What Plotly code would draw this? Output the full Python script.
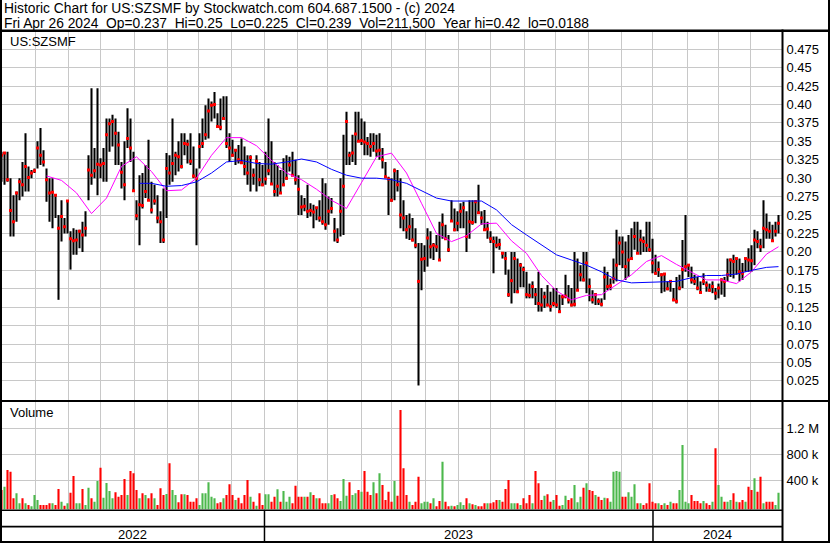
import plotly.graph_objects as go
import pandas as pd

W, H = 830, 543

# ---------------- data (~2 trading days per bar) ----------------
high = [
0.336,0.334,0.336,0.300,0.277,0.282,0.300,0.322,0.361,0.316,
0.311,0.313,0.350,0.368,0.338,0.313,0.300,0.300,0.277,0.250,
0.270,0.246,0.270,0.228,0.232,0.230,0.230,0.241,0.255,0.331,
0.422,0.341,0.422,0.327,0.341,0.381,0.381,0.386,0.381,0.363,
0.322,0.350,0.395,0.381,0.336,0.270,0.304,0.307,0.318,0.352,
0.295,0.291,0.277,0.255,0.286,0.334,0.331,0.381,0.336,0.350,
0.361,0.361,0.352,0.361,0.343,0.313,0.361,0.381,0.399,0.408,
0.404,0.417,0.388,0.408,0.411,0.411,0.361,0.352,0.338,0.345,
0.354,0.343,0.331,0.331,0.313,0.331,0.322,0.318,0.336,0.381,
0.350,0.322,0.318,0.311,0.327,0.331,0.329,0.336,0.325,0.304,
0.277,0.273,0.291,0.266,0.264,0.261,0.270,0.300,0.293,0.275,
0.273,0.246,0.232,0.300,0.359,0.390,0.336,0.359,0.390,0.390,
0.381,0.377,0.356,0.361,0.361,0.359,0.361,0.341,0.322,0.302,
0.300,0.313,0.311,0.300,0.270,0.250,0.252,0.246,0.232,0.212,
0.212,0.209,0.232,0.228,0.212,0.223,0.241,0.252,0.237,0.223,
0.270,0.259,0.255,0.266,0.268,0.255,0.270,0.270,0.270,0.291,
0.255,0.257,0.241,0.228,0.221,0.221,0.218,0.200,0.200,0.176,
0.200,0.200,0.191,0.185,0.180,0.173,0.157,0.160,0.151,0.173,
0.151,0.146,0.155,0.146,0.151,0.151,0.142,0.142,0.169,0.155,
0.151,0.200,0.191,0.182,0.200,0.200,0.164,0.148,0.144,0.137,
0.137,0.180,0.173,0.164,0.191,0.230,0.221,0.221,0.214,0.223,
0.232,0.241,0.241,0.230,0.221,0.241,0.241,0.218,0.196,0.187,
0.171,0.171,0.160,0.160,0.151,0.166,0.169,0.216,0.250,0.182,
0.180,0.169,0.166,0.160,0.171,0.160,0.157,0.160,0.151,0.157,
0.164,0.166,0.191,0.191,0.196,0.191,0.191,0.185,0.191,0.205,
0.209,0.230,0.228,0.218,0.270,0.252,0.241,0.237,0.241,0.250,
]
low = [
0.295,0.291,0.295,0.221,0.221,0.241,0.270,0.275,0.282,0.282,
0.300,0.307,0.313,0.318,0.316,0.268,0.241,0.232,0.246,0.135,
0.214,0.225,0.225,0.176,0.196,0.196,0.205,0.200,0.221,0.270,
0.291,0.300,0.277,0.300,0.295,0.295,0.336,0.343,0.318,0.318,
0.286,0.270,0.341,0.322,0.282,0.243,0.209,0.259,0.273,0.270,
0.252,0.264,0.239,0.212,0.212,0.246,0.291,0.295,0.304,0.309,
0.313,0.331,0.320,0.318,0.300,0.209,0.313,0.341,0.352,0.354,
0.377,0.381,0.368,0.365,0.381,0.341,0.322,0.329,0.318,0.320,
0.320,0.304,0.291,0.282,0.291,0.282,0.289,0.289,0.291,0.304,
0.291,0.275,0.275,0.280,0.289,0.298,0.309,0.304,0.291,0.250,
0.250,0.255,0.246,0.248,0.232,0.243,0.241,0.237,0.230,0.237,
0.252,0.214,0.212,0.221,0.223,0.318,0.318,0.322,0.318,0.350,
0.345,0.331,0.331,0.329,0.336,0.329,0.325,0.313,0.300,0.250,
0.268,0.270,0.282,0.232,0.228,0.218,0.216,0.214,0.205,0.0188,
0.148,0.173,0.180,0.191,0.189,0.200,0.189,0.218,0.216,0.200,
0.241,0.228,0.228,0.232,0.232,0.200,0.218,0.237,0.239,0.252,
0.237,0.230,0.218,0.212,0.171,0.205,0.203,0.191,0.169,0.139,
0.130,0.144,0.144,0.152,0.152,0.137,0.137,0.137,0.128,0.119,
0.119,0.124,0.126,0.119,0.126,0.124,0.117,0.128,0.137,0.130,
0.126,0.126,0.148,0.160,0.160,0.144,0.133,0.130,0.128,0.128,
0.126,0.135,0.148,0.148,0.157,0.160,0.182,0.178,0.162,0.166,
0.191,0.203,0.198,0.196,0.200,0.200,0.200,0.171,0.169,0.166,
0.144,0.146,0.148,0.146,0.133,0.130,0.148,0.151,0.173,0.166,
0.157,0.155,0.148,0.144,0.155,0.146,0.146,0.144,0.135,0.137,
0.142,0.139,0.160,0.166,0.164,0.169,0.160,0.162,0.173,0.173,
0.173,0.182,0.205,0.200,0.205,0.218,0.218,0.214,0.221,0.225,
]
close = [
0.331,0.334,0.298,0.256,0.241,0.280,0.295,0.291,0.316,0.301,
0.307,0.310,0.341,0.331,0.322,0.298,0.280,0.281,0.277,0.232,
0.248,0.234,0.269,0.218,0.215,0.216,0.228,0.223,0.232,0.311,
0.304,0.310,0.319,0.318,0.320,0.359,0.374,0.377,0.361,0.345,
0.308,0.291,0.354,0.341,0.283,0.249,0.264,0.263,0.282,0.270,
0.257,0.269,0.246,0.241,0.216,0.313,0.307,0.320,0.331,0.329,
0.316,0.347,0.346,0.323,0.303,0.300,0.343,0.347,0.359,0.391,
0.399,0.400,0.370,0.369,0.381,0.347,0.341,0.331,0.338,0.325,
0.321,0.316,0.307,0.328,0.304,0.323,0.298,0.291,0.299,0.310,
0.292,0.282,0.289,0.280,0.291,0.300,0.318,0.304,0.298,0.285,
0.261,0.262,0.255,0.256,0.254,0.260,0.246,0.241,0.237,0.255,
0.259,0.228,0.216,0.255,0.289,0.377,0.331,0.334,0.360,0.350,
0.351,0.349,0.347,0.343,0.347,0.337,0.338,0.325,0.302,0.299,
0.270,0.310,0.291,0.250,0.246,0.230,0.234,0.216,0.209,0.160,
0.190,0.191,0.219,0.207,0.209,0.207,0.189,0.237,0.218,0.203,
0.242,0.230,0.239,0.255,0.260,0.221,0.241,0.240,0.268,0.253,
0.246,0.230,0.231,0.218,0.214,0.209,0.210,0.198,0.191,0.142,
0.161,0.191,0.146,0.182,0.176,0.142,0.141,0.153,0.142,0.130,
0.128,0.139,0.128,0.126,0.130,0.128,0.119,0.139,0.140,0.135,
0.128,0.129,0.148,0.169,0.162,0.185,0.153,0.135,0.142,0.133,
0.129,0.166,0.153,0.154,0.164,0.182,0.212,0.200,0.180,0.189,
0.191,0.221,0.198,0.216,0.214,0.209,0.203,0.185,0.171,0.176,
0.169,0.170,0.150,0.160,0.135,0.133,0.151,0.176,0.180,0.182,
0.162,0.160,0.151,0.145,0.160,0.155,0.148,0.153,0.144,0.151,
0.162,0.160,0.169,0.189,0.187,0.191,0.173,0.171,0.191,0.189,
0.188,0.216,0.214,0.207,0.232,0.230,0.228,0.215,0.228,0.239,
]
volume_k = [
254,305,562,536,126,203,49,126,49,23,
4,177,100,23,23,23,49,49,23,269,
75,13,49,213,469,49,49,269,23,290,
126,75,393,598,136,362,239,126,218,151,
177,423,177,546,510,254,126,203,177,126,
203,126,23,280,177,192,664,254,177,64,
187,187,177,75,75,126,23,203,203,372,
151,126,49,64,126,177,341,177,100,136,
49,177,408,151,75,13,203,23,187,187,
75,151,264,75,239,75,151,49,321,151,
151,151,151,218,177,126,126,49,49,49,
177,187,126,85,423,167,372,177,203,254,
228,546,228,177,372,203,510,331,100,228,
75,393,167,1485,587,177,75,23,75,459,
49,75,75,49,126,4,85,690,75,4,
13,4,23,64,23,126,49,34,23,4,
4,49,49,49,64,100,100,75,269,408,
49,49,49,23,126,49,177,49,546,357,
100,167,187,75,100,177,13,23,167,100,
126,331,64,151,290,357,254,239,177,151,
100,136,126,75,536,546,536,151,151,218,
151,341,49,49,23,49,357,75,49,49,
23,49,23,75,49,49,254,946,75,49,
177,85,85,49,85,49,23,75,895,331,
151,75,75,100,203,75,64,100,75,305,
254,434,228,459,49,75,75,75,23,211.5,
]
# moving averages (pink = short, blue = long)
ma_short_x = list(range(15, 256, 5)) + [259]
ma_short = [
0.303,0.297,0.280,0.252,0.273,0.316,0.329,0.309,0.283,0.284,
0.300,0.331,0.355,0.355,0.344,0.324,0.307,0.298,0.285,0.270,
0.259,0.295,0.329,0.334,0.307,0.266,0.225,0.214,0.222,0.238,
0.239,0.215,0.198,0.168,0.147,0.135,0.141,0.142,0.155,0.169,
0.187,0.195,0.183,0.173,0.162,0.162,0.157,0.173,0.197,0.207,
]
ma_long_x = [46] + list(range(50, 256, 5)) + [259]
ma_long = [
0.293,0.293,0.289,0.290,0.295,0.307,0.322,0.324,0.320,0.319,
0.322,0.326,0.322,0.312,0.304,0.300,0.300,0.298,0.293,0.283,
0.273,0.269,0.269,0.269,0.257,0.237,0.223,0.209,0.196,0.189,
0.182,0.173,0.162,0.158,0.159,0.160,0.160,0.165,0.168,0.168,
0.170,0.175,0.179,0.180,
]
price_tick_vals = [0.025, 0.05, 0.075, 0.10, 0.125, 0.15, 0.175, 0.20, 0.225, 0.25,
                   0.275, 0.30, 0.325, 0.35, 0.375, 0.40, 0.425, 0.45, 0.475]
price_tick_text = ["0.025", "0.05", "0.075", "0.10", "0.125", "0.15", "0.175", "0.20", "0.225", "0.25",
                   "0.275", "0.30", "0.325", "0.35", "0.375", "0.40", "0.425", "0.45", "0.475"]
vol_tick_vals = [400000, 800000, 1200000]
vol_tick_text = ["400 k", "800 k", "1.2 M"]
title_line1 = "Historic Chart for US:SZSMF by Stockwatch.com 604.687.1500 - (c) 2024"
title_fields = ["Fri Apr 26 2024", "Op=0.237", "Hi=0.25", "Lo=0.225", "Cl=0.239",
                "Vol=211,500", "Year hi=0.42", "lo=0.0188"]
symbol = "US:SZSMF"

# ---------------- derived ----------------
N = len(close)
idx = list(range(N))
volume = [v * 1000 for v in volume_k]
vcolors = []
for i in range(N):
    if i == 0 or close[i] < close[i - 1]:
        vcolors.append("#ff0000")
    elif close[i] > close[i - 1]:
        vcolors.append("#4cb84c")
    else:
        vcolors.append("#b4b4b4")

days = pd.bdate_range("2022-04-28", "2024-04-26")
scale = N / len(days)
month_pos = [i * scale - 0.5 for i in range(1, len(days))
             if days[i].month != days[i - 1].month and i * scale > 3]
year_pos = [i * scale - 0.5 for i in range(1, len(days)) if days[i].year != days[i - 1].year]
years = sorted(set(d.year for d in days))

# ---------------- geometry ----------------
def px(x):
    return x / W
def py(y):
    return 1 - y / H

PLOT_R = 781.5
x_end = -0.5 + PLOT_R / 3.0
FONT = "Arial, 'Liberation Sans', sans-serif"
GRID = "#c8c8c8"
FS = 13

fig = go.Figure()
fig.add_trace(go.Bar(x=idx, y=[h - l for h, l in zip(high, low)], base=low,
                     width=0.68, marker=dict(color="black", line=dict(width=0)),
                     xaxis="x", yaxis="y", hoverinfo="skip"))
fig.add_trace(go.Scatter(x=idx, y=close, mode="markers",
                         marker=dict(symbol="square", size=3, color="#ff0000", line=dict(width=0)),
                         xaxis="x", yaxis="y", hoverinfo="skip"))
fig.add_trace(go.Scatter(x=ma_short_x, y=ma_short, mode="lines",
                         line=dict(color="#ff00ff", width=1), xaxis="x", yaxis="y", hoverinfo="skip"))
fig.add_trace(go.Scatter(x=ma_long_x, y=ma_long, mode="lines",
                         line=dict(color="#0000ff", width=1), xaxis="x", yaxis="y", hoverinfo="skip"))

vmin = -46000
fig.add_trace(go.Bar(x=idx, y=[v - vmin for v in volume], base=vmin, width=0.7,
                     marker=dict(color=vcolors, line=dict(width=0)),
                     xaxis="x2", yaxis="y2", hoverinfo="skip"))

xcommon = dict(range=[-0.5, x_end], domain=[0, px(PLOT_R)], tickvals=month_pos,
               showticklabels=False, ticks="", showgrid=True, gridcolor=GRID, gridwidth=1,
               zeroline=False, showline=False, fixedrange=True)

fig.update_layout(
    width=W, height=H, margin=dict(l=0, r=0, t=0, b=0),
    paper_bgcolor="white", plot_bgcolor="white", showlegend=False,
    barmode="overlay", font=dict(family=FONT, size=FS, color="black"),
    xaxis=dict(anchor="y", **xcommon),
    xaxis2=dict(anchor="y2", matches="x", **xcommon),
    yaxis=dict(domain=[py(400), py(32)], range=[-0.0009, 0.4983], side="right", anchor="x",
               tickvals=price_tick_vals, ticktext=price_tick_text, ticks="",
               ticklabelstandoff=4, showgrid=True, gridcolor=GRID, zeroline=False,
               tickfont=dict(size=FS, family=FONT, color="black"), fixedrange=True),
    yaxis2=dict(domain=[py(509.5), py(402)], range=[vmin, 1608000], side="right", anchor="x2",
                tickvals=vol_tick_vals, ticktext=vol_tick_text, ticks="",
                ticklabelstandoff=4, showgrid=True, gridcolor=GRID, zeroline=False,
                tickfont=dict(size=FS, family=FONT, color="black"), fixedrange=True),
)

def rect(x0, y0, x1, y1):
    fig.add_shape(type="rect", xref="paper", yref="paper", x0=px(x0), x1=px(x1),
                  y0=py(y0), y1=py(y1), fillcolor="black", line=dict(width=0), layer="above")

rect(0, 0, 2, H)              # left border
rect(828, 0, 830, H)          # right border
rect(0, 29.5, 830, 32)        # header separator
rect(781.5, 29.5, 783.5, H)   # right axis panel border
rect(0, 400, 830, 402)        # price / volume separator
rect(0, 509.5, 782, 511)      # bottom of volume
rect(0, 525.8, 782, 527.5)    # row line
rect(0, 541, 830, 543)        # bottom border
for yp in year_pos:
    fig.add_shape(type="line", xref="x", yref="paper", x0=yp, x1=yp, y0=py(510), y1=py(541),
                  line=dict(color="black", width=1.5), layer="above")

def note(text, x, y, size=FS, xanchor="left", xref="paper"):
    fig.add_annotation(text=text, x=(px(x) if xref == "paper" else x), y=py(y),
                       xref=xref, yref="paper", xanchor=xanchor, yanchor="middle",
                       showarrow=False, font=dict(size=size, family=FONT, color="black"))

note(title_line1, 1.5, 8.5, size=13.8)
note("\u00a0\u00a0".join(title_fields), 1.5, 23, size=13.8)
note(symbol, 7.5, 41)
note("Volume", 7.5, 413)
bounds = [-0.5] + year_pos + [x_end]
for k, yr in enumerate(years):
    note(str(yr), (bounds[k] + bounds[k + 1]) / 2, 534.5, xanchor="center", xref="x")

fig.write_html("out.html", config={"displayModeBar": False, "staticPlot": True},
               post_script="document.body.style.margin='0px';document.body.style.overflow='hidden';")
